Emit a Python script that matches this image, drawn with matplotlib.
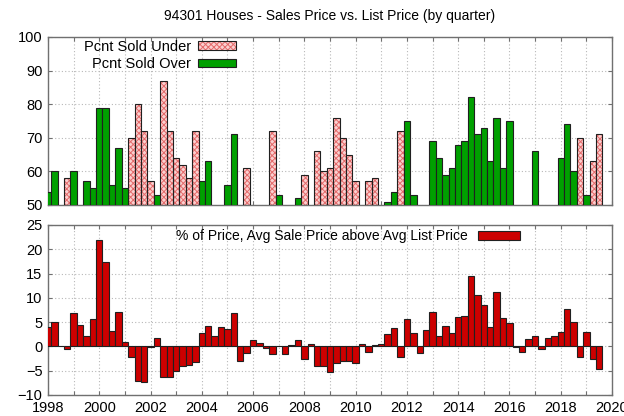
import numpy as np
import matplotlib
matplotlib.use("Agg")
import matplotlib.pyplot as plt

plt.rcParams['font.family'] = ['Liberation Sans', 'DejaVu Sans']
plt.rcParams['hatch.linewidth'] = 0.7

# one entry per quarter, starting 1998 Q1 (None = bar below 50, not visible)
pct_under = [None, None, None, 58, None, None, None, None, None, None,
             None, None, None, 70, 80, 72, 57, None, 87, 72,
             64, 62, 58, 72, None, None, None, None, None, None,
             None, 61, None, None, None, 72, None, None, None, None,
             59, None, 66, 60, 61, 76, 70, 65, 57, None,
             57, 58, None, None, None, 72, None, None, None, None,
             None, None, None, None, None, None, None, None, None, None,
             None, None, None, None, None, None, None, None, None, None,
             None, None, None, 70, None, 63, 71]
pct_over = [54, 60, None, None, 60, None, 57, 55, 79, 79,
            56, 67, 55, None, None, None, None, 53, None, None,
            None, None, None, None, 57, 63, None, None, 56, 71,
            None, None, None, None, None, None, 53, None, None, 52,
            None, None, None, None, None, None, None, None, None, None,
            None, None, None, 51, 54, None, 75, 53, None, None,
            69, 64, 59, 61, 68, 69, 82, 71, 73, 63,
            76, 61, 75, None, None, None, 66, None, None, None,
            64, 74, 60, None, 53, None, None]
pct_above_list = [3.9, 5.1, 0.0, -0.6, 6.8, 4.4, 2.1, 5.6, 21.9, 17.3,
                  3.2, 7.1, 1.0, -2.1, -7.1, -7.4, -0.1, 1.7, -6.2, -6.2,
                  -5.0, -4.1, -3.8, -3.3, 2.7, 4.2, 2.1, 3.9, 3.5, 6.8,
                  -2.9, -1.4, 1.3, 0.8, -0.4, -1.6, 0.0, -1.6, 0.3, 1.3,
                  -2.5, 0.4, -4.1, -4.1, -5.2, -3.5, -2.9, -2.9, -3.5, 0.5,
                  -1.2, 0.3, 0.5, 2.5, 3.7, -2.1, 5.6, 2.7, -1.4, 3.4,
                  7.1, 2.2, 4.3, 2.7, 6.0, 6.3, 14.5, 10.6, 8.5, 4.1,
                  11.2, 5.8, 4.8, -0.1, -1.1, 1.5, 2.2, -0.5, 1.8, 2.2,
                  2.9, 7.8, 5.1, -2.1, 2.9, -2.5, -4.7]

first_year = 1998
quarters = first_year + np.arange(len(pct_above_list)) / 4.0
under = np.array([np.nan if v is None else v for v in pct_under], dtype=float)
over = np.array([np.nan if v is None else v for v in pct_over], dtype=float)
above = np.array(pct_above_list)

edge = '#202020'
spine = '#707070'
years = np.arange(1998, 2021)
year_labels = [str(y) if y % 2 == 0 else '' for y in years]

fig = plt.figure(figsize=(6.24, 4.16), dpi=100)
ax1 = fig.add_axes([48 / 624, 1 - 205 / 416, 564 / 624, 168 / 416])
ax2 = fig.add_axes([48 / 624, 1 - 395 / 416, 564 / 624, 170 / 416])

def style(ax):
    ax.set_xlim(1998, 2020)
    ax.set_xticks(years)
    ax.grid(True, color='#b8b8b8', linestyle=(0, (1, 2)), linewidth=0.8)
    ax.set_axisbelow(True)
    ax.tick_params(direction='in', top=True, right=True, length=3,
                   color=spine, labelsize=10.5, pad=4)
    for s in ax.spines.values():
        s.set_color(spine)
        s.set_linewidth(1.0)

# top panel
ax1.bar(quarters, under - 50, width=0.25, bottom=50, color='#fbd0d0',
        hatch='xxxxxx', edgecolor='#e46a6a', linewidth=0, zorder=2)
ax1.bar(quarters, under - 50, width=0.25, bottom=50, facecolor='none',
        edgecolor=edge, linewidth=0.8, zorder=3)
ax1.bar(quarters, over - 50, width=0.25, bottom=50, color='#00a000',
        edgecolor=edge, linewidth=0.8, zorder=3)
style(ax1)
ax1.set_ylim(50, 100)
ax1.set_yticks(range(50, 101, 10))
ax1.set_xticklabels([])

h_under_fill = plt.Rectangle((0, 0), 1, 1, facecolor='#fbd0d0', hatch='xxxxxx',
                             edgecolor='#e46a6a', linewidth=0)
h_under_edge = plt.Rectangle((0, 0), 1, 1, facecolor='none', edgecolor=edge, linewidth=0.8)
h_over = plt.Rectangle((0, 0), 1, 1, facecolor='#00a000', edgecolor=edge, linewidth=0.8)
ax1.legend([(h_under_fill, h_under_edge), h_over], ['Pcnt Sold Under', 'Pcnt Sold Over'],
           loc='upper right', bbox_to_anchor=(0.334, 0.985), frameon=False,
           markerfirst=False, fontsize=10.5, handlelength=2.6, handleheight=0.55,
           handletextpad=0.5, labelspacing=0.25, borderpad=0, borderaxespad=0)

# bottom panel
ax2.bar(quarters, above, width=0.25, color='#cc0000', edgecolor=edge,
        linewidth=0.8, zorder=3)
style(ax2)
ax2.set_ylim(-10, 25)
ax2.set_yticks(range(-10, 26, 5))
ax2.set_xticklabels(year_labels)
h_red = plt.Rectangle((0, 0), 1, 1, facecolor='#cc0000', edgecolor=edge, linewidth=0.8)
ax2.legend([h_red], ['% of Price, Avg Sale Price above Avg List Price'],
           loc='upper right', bbox_to_anchor=(0.837, 0.975), frameon=False,
           markerfirst=False, fontsize=10, handlelength=3.0, handleheight=0.55,
           handletextpad=0.8, borderpad=0, borderaxespad=0)

fig.text(330 / 624, 1 - 16 / 416, '94301 Houses - Sales Price vs. List Price (by quarter)',
         ha='center', va='center', fontsize=10)

fig.savefig('out.png', dpi=100)
